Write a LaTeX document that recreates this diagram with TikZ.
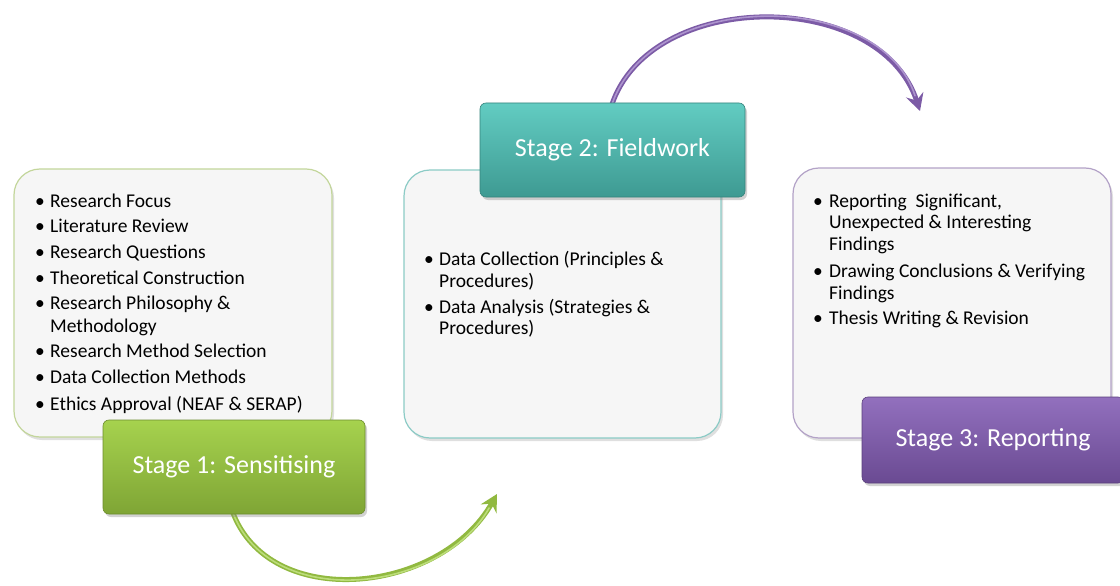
\documentclass[tikz,border=0pt]{standalone}
\usepackage{fontspec}
\setmainfont{Carlito}
\usetikzlibrary{shadows,arrows.meta}
\pgfdeclarelayer{arrowlayer}
\pgfsetlayers{arrowlayer,main}
\definecolor{gTop}{HTML}{A6D24E}
\definecolor{gBot}{HTML}{7FA535}
\definecolor{gLine}{HTML}{C3D69B}
\definecolor{tTop}{HTML}{62CCC2}
\definecolor{tBot}{HTML}{3E9A92}
\definecolor{tLine}{HTML}{8CCBC6}
\definecolor{pTop}{HTML}{9270BE}
\definecolor{pBot}{HTML}{6A4A92}
\definecolor{pLine}{HTML}{B3A2C7}
\definecolor{boxfill}{HTML}{F6F6F6}
\tikzset{
  panel/.style={draw=#1, line width=1.2pt, fill=boxfill, rounded corners=26pt,
    drop shadow={opacity=0.25, shadow xshift=2pt, shadow yshift=-3pt}},
  stagebox/.style 2 args={rounded corners=6pt, top color=#1, bottom color=#2,
    draw=#2!85!black, line width=0.6pt,
    drop shadow={opacity=0.35, shadow xshift=2pt, shadow yshift=-3pt},
    text=white, font=\fontsize{26}{30}\selectfont},
  item/.style={anchor=base west, inner sep=0pt, font=\fontsize{19.5}{22}\selectfont, text=black},
  bul/.style={anchor=base, inner sep=0pt, font=\fontsize{19.5}{22}\selectfont, text=black},
  flow/.style={line width=5pt, draw=#1, -{Stealth[length=17pt,width=18pt,inset=6pt]}},
  gloss/.style={line width=1.6pt, draw=#1, line cap=round, shorten >=16pt},
}
\begin{document}
\begin{tikzpicture}[x=1pt,y=-1pt]
\useasboundingbox (0,0) rectangle (1120,586);
\begin{pgfonlayer}{arrowlayer}
\fill[white] (0,0) rectangle (1120,586);
\end{pgfonlayer}

% panels
\node[panel=gLine, minimum width=318, minimum height=268] (p1) at (173,303) {};
\node[panel=tLine, minimum width=317, minimum height=268] (p2) at (562.5,304) {};
\node[panel=pLine, minimum width=318, minimum height=270] (p3) at (952,303) {};

% panel 1 text
\foreach \t/\y/\b [count=\i] in {
  {Research Focus}/207/1, {Literature Review}/232/1, {Research Questions}/258/1,
  {Theoretical Construction}/284/1, {Research Philosophy \&}/309/1, {Methodology}/332/0,
  {Research Method Selection}/357/1, {Data Collection Methods}/383/1,
  {Ethics Approval (NEAF \& SERAP)}/410/1}{
  \node[item] (a\i) at (50,\y) {\t};
  \ifnum\b=1 \node[bul] (ab\i) at (40,\y) {•}; \fi
}

% panel 2 text
\foreach \t/\y/\b [count=\i] in {
  {Data Collection (Principles \&}/265/1, {Procedures)}/287/0,
  {Data Analysis (Strategies \&}/313/1, {Procedures)}/334/0}{
  \node[item] (c\i) at (439,\y) {\t};
  \ifnum\b=1 \node[bul] (cb\i) at (429,\y) {•}; \fi
}

% panel 3 text
\foreach \t/\y/\b [count=\i] in {
  {Reporting\ \ Significant,}/207/1, {Unexpected \& Interesting}/228/0, {Findings}/250/0,
  {Drawing Conclusions \& Verifying}/277/1, {Findings}/299/0,
  {Thesis Writing \& Revision}/324/1}{
  \node[item] (e\i) at (829,\y) {\t};
  \ifnum\b=1 \node[bul] (eb\i) at (818,\y) {•}; \fi
}

% stage boxes
\node[stagebox={gTop}{gBot}, minimum width=262, minimum height=94] (s1) at (234,467) {Stage 1: Sensitising};
\node[stagebox={tTop}{tBot}, minimum width=265, minimum height=94] (s2) at (612.5,150) {Stage 2: Fieldwork};
\node[stagebox={pTop}{pBot}, minimum width=262, minimum height=86] (s3) at (993,440) {Stage 3: Reporting};

% arrows (under the stage boxes)
\coordinate (g1) at (497,494);
\coordinate (v1) at (920,111);
\begin{pgfonlayer}{arrowlayer}
\draw[flow=gTop!45!gBot] ([xshift=-2pt,yshift=4pt]s1.south) .. controls (268,612) and (440,595) .. (g1);
\draw[gloss=gTop!75!white] ([xshift=-2pt,yshift=4pt]s1.south) .. controls (268,612) and (440,595) .. (g1);
\draw[flow=pTop!45!pBot] ([xshift=-1pt,yshift=-3pt]s2.north) .. controls (650,-12) and (880,-12) .. (v1);
\draw[gloss=pTop!75!white] ([xshift=-1pt,yshift=-3pt]s2.north) .. controls (650,-12) and (880,-12) .. (v1);
\end{pgfonlayer}
\end{tikzpicture}
\end{document}
